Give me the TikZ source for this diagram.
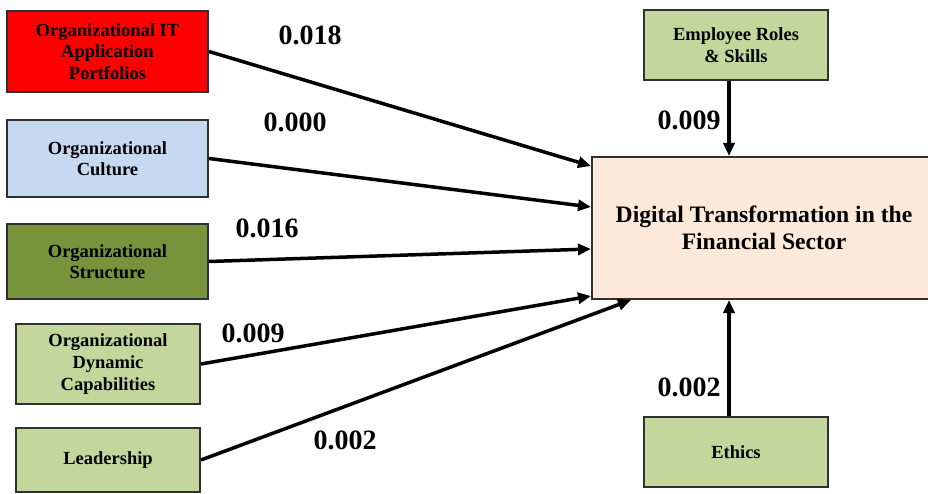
\documentclass[tikz,border=0pt]{standalone}
\usepackage{fontspec}
\setmainfont{Liberation Serif}
\usetikzlibrary{arrows.meta,calc}
\definecolor{cRed}{HTML}{FF0000}
\definecolor{cBlue}{HTML}{C6D9F1}
\definecolor{cOlive}{HTML}{77933C}
\definecolor{cLight}{HTML}{C3D69B}
\definecolor{cPeach}{HTML}{FDE9D9}
\definecolor{cBorder}{HTML}{303030}
\begin{document}
\begin{tikzpicture}[x=1pt,y=-1pt,
  box/.style={draw=cBorder,line width=2pt,align=center,inner sep=2pt,
    font=\fontsize{18.5}{21.6}\selectfont\bfseries},
  arr/.style={line width=3.5pt,-{Triangle[length=13pt,width=11pt]}},
  val/.style={font=\fontsize{28}{30}\selectfont\bfseries}]
\useasboundingbox (0,0) rectangle (928,494);
\node[box,fill=cRed,minimum width=201pt,minimum height=81pt] (itp) at (107.5,51.5) {Organizational IT\\Application\\Portfolios};
\node[box,fill=cBlue,minimum width=201pt,minimum height=77pt] (cult) at (107.5,158.5) {Organizational\\Culture};
\node[box,fill=cOlive,minimum width=201pt,minimum height=75pt] (struc) at (107.5,261.5) {Organizational\\Structure};
\node[box,fill=cLight,minimum width=184pt,minimum height=80pt] (dyn) at (108,364) {Organizational\\Dynamic\\Capabilities};
\node[box,fill=cLight,minimum width=184pt,minimum height=64pt] (lead) at (108,460) {Leadership};
\node[box,fill=cLight,minimum width=184pt,minimum height=70pt] (emp) at (736,45) {Employee Roles\\\& Skills};
\node[box,fill=cPeach,minimum width=344pt,minimum height=142pt,
  font=\fontsize{23.6}{26.7}\selectfont\bfseries] (main) at (764,228) {Digital Transformation in the\\Financial Sector};
\node[box,fill=cLight,minimum width=184pt,minimum height=70pt] (eth) at (736,452) {Ethics};

\coordinate (t1) at ($(main.north west)+(0,10)$);
\coordinate (t2) at ($(main.north west)+(0,51)$);
\coordinate (t3) at ($(main.north west)+(0,93)$);
\coordinate (t4) at ($(main.north west)+(0,140)$);
\coordinate (t5) at ($(main.south west)+(40,0)$);
\coordinate (tn) at ($(main.north west)+(138,0)$);
\coordinate (ts) at ($(main.south west)+(138,0)$);

\draw[arr] (itp.east) -- (t1);
\draw[arr] (cult.east) -- (t2);
\draw[arr] (struc.east) -- (t3);
\draw[arr] (dyn.east) -- (t4);
\draw[arr] (lead.east) -- (t5);
\draw[arr] (emp.south -| tn) -- (tn);
\draw[arr] (eth.north -| ts) -- (ts);

\node[val] (v1) at (310,35) {0.018};
\node[val] (v2) at (295,122) {0.000};
\node[val] (v3) at (267,228) {0.016};
\node[val] (v4) at (253,333) {0.009};
\node[val] (v5) at (345,440) {0.002};
\node[val] (v6) at (689,120) {0.009};
\node[val] (v7) at (689,387) {0.002};
\end{tikzpicture}
\end{document}
